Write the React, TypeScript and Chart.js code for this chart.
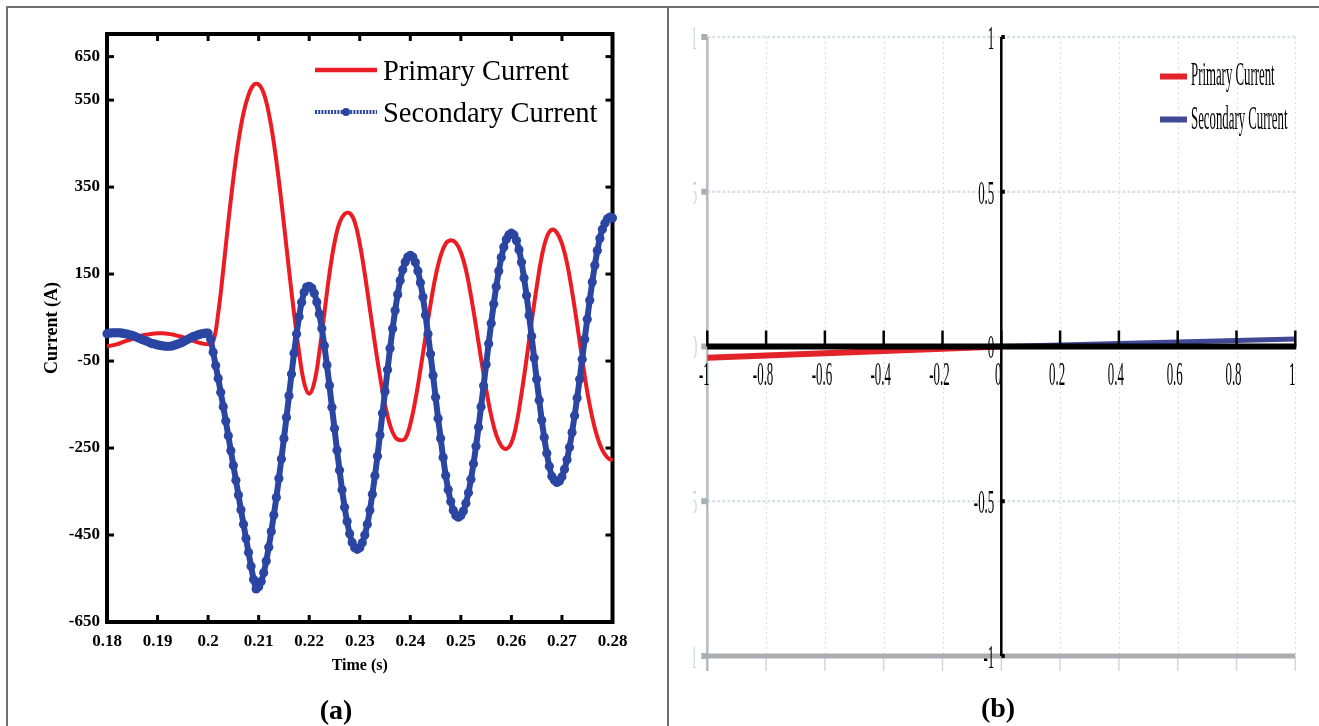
import React, { useEffect, useRef } from "react";
import { Chart, registerables } from "chart.js";
Chart.register(...registerables);

const SERIF = "'Liberation Serif', 'Times New Roman', serif";

// ---------- Panel (a) data ----------
const TIME_START = 0.18;
const PRIMARY_STEP = 0.001;
const SECONDARY_STEP = 0.0005;

const PRIMARY_CURRENT = [
  -16, -14, -11, -7, -3, 1, 5, 9, 11, 13,
  14, 14, 13, 11, 8, 5, 1, -3, -7, -10,
  -11, -5, 60, 160, 270, 370, 455, 520, 562, 585,
  586, 566, 520, 452, 365, 265, 160, 60, -30, -100,
  -125, -100, -30, 60, 150, 222, 268, 288, 290, 270,
  220, 150, 70, -10, -85, -150, -198, -225, -232, -228,
  -195, -140, -70, 5, 80, 145, 192, 220, 228, 222,
  200, 160, 100, 30, -45, -115, -175, -220, -245, -252,
  -238, -195, -125, -45, 40, 120, 190, 235, 252, 245,
  220, 175, 110, 35, -45, -120, -180, -225, -255, -272,
  -279,
];

const SECONDARY_CURRENT = [
  13, 14, 15, 15, 15, 15, 14, 13, 12, 10,
  9, 7, 4, 2, -1, -3, -5, -8, -10, -11,
  -13, -14, -15, -16, -16, -16, -15, -13, -11, -9,
  -6, -3, 0, 3, 6, 8, 10, 12, 13, 14,
  14,
  0, -30, -60, -90, -122, -155, -188, -222, -256, -290,
  -324, -358, -392, -425, -458, -490, -522, -552, -574, -569,
  -557, -537, -510, -478, -442, -404, -364, -320, -275, -228,
  -180, -130, -80, -32, 12, 52, 85, 108, 120, 122,
  118, 106, 86, 58, 25, -15, -59, -106, -156, -205,
  -255, -301, -346, -386, -419, -447, -467, -479, -483, -479,
  -468, -450, -425, -393, -356, -314, -269, -220, -170, -120,
  -70, -21, 24, 66, 103, 135, 160, 178, 189, 193,
  189, 177, 157, 130, 97, 56, 12, -34, -83, -133,
  -182, -228, -272, -313, -346, -373, -393, -405, -409, -405,
  -395, -377, -353, -322, -286, -246, -202, -155, -107, -58,
  -10, 37, 81, 121, 157, 188, 212, 230, 240, 244,
  240, 227, 206, 177, 141, 101, 55, 7, -43, -92,
  -140, -186, -226, -262, -292, -315, -324, -329, -326, -316,
  -299, -277, -248, -214, -176, -135, -92, -46, 0, 46,
  90, 132, 170, 204, 232, 253, 267, 277, 281, 279,
];

const TIME_TICKS = [0.18, 0.19, 0.2, 0.21, 0.22, 0.23, 0.24, 0.25, 0.26, 0.27, 0.28];
const CURRENT_TICKS = [-650, -450, -250, -50, 150, 350, 550, 650];
const SERIES_NAMES = ["Primary Current", "Secondary Current"];
const X_TITLE = "Time (s)";
const Y_TITLE = "Current (A)";

// ---------- Panel (b) data ----------
const B_X_TICKS = [-1, -0.8, -0.6, -0.4, -0.2, 0, 0.2, 0.4, 0.6, 0.8, 1];
const B_Y_TICKS = [-1, -0.5, 0, 0.5, 1];
const B_PRIMARY_X = [-1, 0];
const B_PRIMARY_Y = [-0.036, 0];
const B_SECONDARY_X = [0, 1];
const B_SECONDARY_Y = [0, 0.024];

const RED = "#ec1c24";
const BLUE = "#2b45a3";
const B_RED = "#e3232a";
const B_NAVY = "#414996";

const fmtA = (v: number) => String(+Number(v).toFixed(2));

function drawCondensed(ctx: CanvasRenderingContext2D, text: string, x: number, y: number, size: number, sx: number, align: CanvasTextAlign) {
  ctx.save();
  ctx.translate(x, y);
  ctx.scale(sx, 1);
  ctx.font = `${size}px ${SERIF}`;
  ctx.textAlign = align;
  ctx.textBaseline = "middle";
  ctx.fillText(text, 0, 0);
  ctx.restore();
}

function seg(ctx: CanvasRenderingContext2D, x1: number, y1: number, x2: number, y2: number) {
  ctx.beginPath();
  ctx.moveTo(x1, y1);
  ctx.lineTo(x2, y2);
  ctx.stroke();
}

const panelAPlugin = {
  id: "panelA",
  beforeDatasetsDraw(chart: any) {
    const { ctx, chartArea: a, scales } = chart;
    ctx.save();
    ctx.strokeStyle = "#000";
    ctx.lineWidth = 4;
    ctx.strokeRect(a.left, a.top, a.right - a.left, a.bottom - a.top);
    ctx.lineWidth = 3;
    const tl = 7;
    CURRENT_TICKS.forEach((v) => {
      const y = scales.y.getPixelForValue(v);
      seg(ctx, a.left, y, a.left + tl, y);
      seg(ctx, a.right, y, a.right - tl, y);
    });
    TIME_TICKS.forEach((v) => {
      const x = scales.x.getPixelForValue(v);
      seg(ctx, x, a.top, x, a.top + tl);
      seg(ctx, x, a.bottom, x, a.bottom - tl);
    });
    ctx.restore();
  },
  afterDraw(chart: any) {
    const { ctx } = chart;
    ctx.save();
    const x0 = 315, x1 = 377, tx = 383;
    const y1 = 70, y2 = 112;
    ctx.strokeStyle = RED;
    ctx.lineWidth = 4.5;
    seg(ctx, x0, y1, x1, y1);
    ctx.strokeStyle = BLUE;
    ctx.lineWidth = 4;
    ctx.setLineDash([2, 1.2]);
    seg(ctx, x0, y2, x1, y2);
    ctx.setLineDash([]);
    ctx.fillStyle = BLUE;
    ctx.beginPath();
    ctx.arc((x0 + x1) / 2, y2, 4, 0, Math.PI * 2);
    ctx.fill();
    ctx.fillStyle = "#000";
    ctx.font = `28.5px ${SERIF}`;
    ctx.textAlign = "left";
    ctx.textBaseline = "alphabetic";
    ctx.fillText(SERIES_NAMES[0], tx, 80);
    ctx.fillText(SERIES_NAMES[1], tx, 122);
    ctx.restore();
  },
};

const panelBPlugin = {
  id: "panelB",
  beforeDatasetsDraw(chart: any) {
    const { ctx, chartArea: a, scales } = chart;
    const sx = scales.x, sy = scales.y;
    ctx.save();
    // vertical dotted grid
    ctx.strokeStyle = "#dcdfe2";
    ctx.lineWidth = 1;
    ctx.setLineDash([2, 3]);
    B_X_TICKS.forEach((v) => {
      if (v === -1) return;
      const x = Math.round(sx.getPixelForValue(v)) + 0.5;
      seg(ctx, x, a.top, x, a.bottom);
    });
    // horizontal dotted grid
    ctx.strokeStyle = "#dde1e4";
    ctx.lineWidth = 2.5;
    ctx.setLineDash([3, 2]);
    B_Y_TICKS.forEach((v) => {
      if (v === -1 || v === 0) return;
      const y = sy.getPixelForValue(v);
      seg(ctx, a.left, y, a.right, y);
    });
    ctx.setLineDash([]);
    // tick marks below the bottom line
    ctx.strokeStyle = "#d3d7da";
    ctx.lineWidth = 1.5;
    B_X_TICKS.forEach((v) => {
      const x = sx.getPixelForValue(v);
      seg(ctx, x, a.bottom, x, a.bottom + 15);
    });
    // gray left axis
    ctx.strokeStyle = "#b5bbc0";
    ctx.lineWidth = 2.5;
    seg(ctx, a.left, a.top, a.left, a.bottom + 15);
    // gray bottom line
    ctx.strokeStyle = "#a9aeb3";
    ctx.lineWidth = 5;
    seg(ctx, a.left - 4, a.bottom, a.right, a.bottom);
    // gray tick squares
    ctx.fillStyle = "#a9afb4";
    B_Y_TICKS.forEach((v) => {
      const y = sy.getPixelForValue(v);
      ctx.fillRect(a.left - 6, y - 3, 6, 6);
    });
    // faint clipped labels on the left axis
    ctx.save();
    ctx.beginPath();
    ctx.rect(a.left - 14, 0, 4, chart.height);
    ctx.clip();
    ctx.fillStyle = "#cfd3d6";
    B_Y_TICKS.forEach((v) => {
      const y = sy.getPixelForValue(v);
      drawCondensed(ctx, String(v), a.left - 10, y + 3, 34, 0.38, "right");
    });
    ctx.restore();
    ctx.restore();
  },
  afterDatasetsDraw(chart: any) {
    const { ctx, chartArea: a, scales } = chart;
    const sx = scales.x, sy = scales.y;
    const x0 = sx.getPixelForValue(0);
    const y0 = sy.getPixelForValue(0);
    ctx.save();
    ctx.strokeStyle = "#000";
    ctx.fillStyle = "#000";
    // vertical black axis
    ctx.lineWidth = 2.5;
    seg(ctx, x0, a.top, x0, a.bottom);
    B_Y_TICKS.forEach((v) => {
      const y = sy.getPixelForValue(v);
      ctx.fillRect(x0, y - 2, 3.5, 4);
    });
    // horizontal black axis
    ctx.lineWidth = 6;
    seg(ctx, a.left, y0, a.right + 1, y0);
    ctx.lineWidth = 2.5;
    B_X_TICKS.forEach((v) => {
      const x = sx.getPixelForValue(v);
      seg(ctx, x, y0, x, y0 - 16);
    });
    // labels
    B_X_TICKS.forEach((v) => {
      const x = sx.getPixelForValue(v);
      drawCondensed(ctx, String(v), x - 3, y0 + 30, 34, 0.38, "center");
    });
    B_Y_TICKS.forEach((v) => {
      const y = sy.getPixelForValue(v);
      drawCondensed(ctx, String(v), x0 - 7, y + 3, 34, 0.38, "right");
    });
    // legend
    const lx0 = 492, lx1 = 519, ltx = 523;
    ctx.lineWidth = 6;
    ctx.strokeStyle = B_RED;
    seg(ctx, lx0, 76.5, lx1, 76.5);
    ctx.strokeStyle = B_NAVY;
    seg(ctx, lx0, 119.5, lx1, 119.5);
    ctx.fillStyle = "#000";
    drawCondensed(ctx, SERIES_NAMES[0], ltx, 76, 34, 0.377, "left");
    drawCondensed(ctx, SERIES_NAMES[1], ltx, 120, 34, 0.377, "left");
    ctx.restore();
  },
};

export default function App() {
  const refA = useRef<HTMLCanvasElement>(null);
  const refB = useRef<HTMLCanvasElement>(null);

  useEffect(() => {
    const primaryPoints = PRIMARY_CURRENT.map((v, i) => ({ x: +(TIME_START + i * PRIMARY_STEP).toFixed(4), y: v }));
    const secondaryPoints = SECONDARY_CURRENT.map((v, i) => ({ x: +(TIME_START + i * SECONDARY_STEP).toFixed(4), y: v }));

    const tickFont = { family: SERIF, size: 17, weight: "bold" as const };
    const chartA = new Chart(refA.current!, {
      type: "line",
      data: {
        datasets: [
          {
            label: SERIES_NAMES[1],
            data: secondaryPoints,
            borderColor: BLUE,
            backgroundColor: BLUE,
            borderWidth: 6,
            pointRadius: 4.6,
            pointBorderWidth: 0,
            pointBackgroundColor: BLUE,
            tension: 0.2,
            clip: false as any,
            order: 0,
          },
          {
            label: SERIES_NAMES[0],
            data: primaryPoints,
            borderColor: RED,
            borderWidth: 4,
            pointRadius: 0,
            tension: 0.4,
            clip: false as any,
            order: 1,
          },
        ],
      },
      options: {
        responsive: false,
        animation: false,
        events: [],
        layout: { padding: { left: 0, top: 34, right: 55.5, bottom: 0 } },
        plugins: { legend: { display: false }, tooltip: { enabled: false } },
        scales: {
          x: {
            type: "linear",
            min: 0.18,
            max: 0.28,
            afterBuildTicks: (s: any) => { s.ticks = TIME_TICKS.map((v) => ({ value: v })); },
            afterFit: (s: any) => { s.height = 78; },
            grid: { display: false, drawTicks: false },
            border: { display: false },
            ticks: { font: tickFont, color: "#000", padding: 9, maxRotation: 0, autoSkip: false, callback: (v: any) => fmtA(v) },
            title: { display: true, text: X_TITLE, color: "#000", font: { family: SERIF, size: 16, weight: "bold" }, padding: { top: 0, bottom: 25 } },
          },
          y: {
            type: "linear",
            min: -650,
            max: 702,
            afterBuildTicks: (s: any) => { s.ticks = CURRENT_TICKS.map((v) => ({ value: v })); },
            afterFit: (s: any) => { s.width = 107; },
            grid: { display: false, drawTicks: false },
            border: { display: false },
            ticks: { font: tickFont, color: "#000", padding: 7, autoSkip: false },
            title: { display: true, text: Y_TITLE, color: "#000", font: { family: SERIF, size: 18, weight: "bold" }, padding: { top: 42, bottom: 0 } },
          },
        },
      },
      plugins: [panelAPlugin],
    } as any);

    const chartB = new Chart(refB.current!, {
      type: "scatter",
      data: {
        datasets: [
          {
            label: SERIES_NAMES[0],
            data: B_PRIMARY_X.map((x, i) => ({ x, y: B_PRIMARY_Y[i] })),
            borderColor: B_RED,
            borderWidth: 6,
            showLine: true,
            pointRadius: 0,
          },
          {
            label: SERIES_NAMES[1],
            data: B_SECONDARY_X.map((x, i) => ({ x, y: B_SECONDARY_Y[i] })),
            borderColor: B_NAVY,
            borderWidth: 5,
            showLine: true,
            pointRadius: 0,
          },
        ],
      },
      options: {
        responsive: false,
        animation: false,
        events: [],
        layout: { padding: { left: 39.3, top: 37, right: 23.7, bottom: 70 } },
        plugins: { legend: { display: false }, tooltip: { enabled: false } },
        scales: {
          x: { type: "linear", min: -1, max: 1, display: false },
          y: { type: "linear", min: -1, max: 1, display: false },
        },
      },
      plugins: [panelBPlugin],
    } as any);

    return () => {
      chartA.destroy();
      chartB.destroy();
    };
  }, []);

  const lineStyle = { position: "absolute" as const, background: "#6f6f6f" };
  return (
    <div style={{ position: "fixed", left: 0, top: 0, width: 1319, height: 726, background: "#fff", overflow: "hidden" }}>
      <canvas ref={refA} width={668} height={700} style={{ position: "absolute", left: 0, top: 0, width: 668, height: 700 }} />
      <canvas ref={refB} width={651} height={726} style={{ position: "absolute", left: 668, top: 0, width: 651, height: 726 }} />
      <div style={{ ...lineStyle, left: 6, top: 6, width: 2, height: 720 }} />
      <div style={{ ...lineStyle, left: 6, top: 6, width: 1313, height: 2 }} />
      <div style={{ ...lineStyle, left: 667, top: 6, width: 2, height: 720 }} />
      <div style={{ position: "absolute", left: 236, top: 694, width: 200, textAlign: "center", font: `bold 28px ${SERIF}`, lineHeight: "32px", color: "#000" }}>(a)</div>
      <div style={{ position: "absolute", left: 898, top: 692, width: 200, textAlign: "center", font: `bold 28px ${SERIF}`, lineHeight: "32px", color: "#000" }}>(b)</div>
    </div>
  );
}
